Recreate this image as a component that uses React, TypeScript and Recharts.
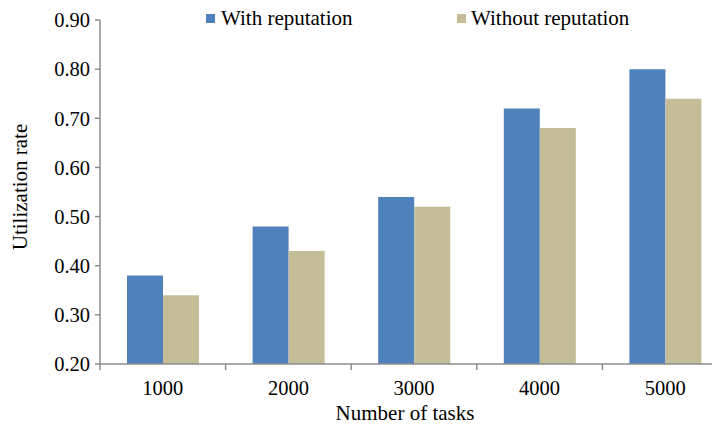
import React from 'react';
import { BarChart, Bar, XAxis, YAxis } from 'recharts';

const categories = ['1000', '2000', '3000', '4000', '5000'];
const withReputation = [0.38, 0.48, 0.54, 0.72, 0.80];
const withoutReputation = [0.34, 0.43, 0.52, 0.68, 0.74];
const yTicks = [0.2, 0.3, 0.4, 0.5, 0.6, 0.7, 0.8, 0.9];

const data = categories.map((c, i) => ({
  name: c,
  withRep: withReputation[i],
  withoutRep: withoutReputation[i],
}));

const FONT = '"Liberation Serif", "Times New Roman", serif';
const AXIS = '#8c8c8c';

const XTick = (props: any) => {
  const { x, y, payload } = props;
  const off = payload && typeof payload.offset === 'number' ? payload.offset : 0;
  return (
    <g>
      <line x1={x - off} y1={y - 8} x2={x - off} y2={y - 2} stroke={AXIS} strokeWidth={1.5} />
      <text x={x} y={y + 23} textAnchor="middle" style={{ fontFamily: FONT }} fontSize={20.5} fill="#000">
        {payload.value}
      </text>
    </g>
  );
};

const XLabel = (props: any) => {
  const vb = props.viewBox || { x: 100, y: 364, width: 628 };
  return (
    <text x={vb.x + 305} y={vb.y + 56} textAnchor="middle" style={{ fontFamily: FONT }} fontSize={21} fill="#000">
      Number of tasks
    </text>
  );
};

const YLabel = () => (
  <text x={27} y={187} transform="rotate(-90, 27, 187)" textAnchor="middle" style={{ fontFamily: FONT }} fontSize={21} fill="#000">
    Utilization rate
  </text>
);

export default function App() {
  return (
    <div style={{ marginTop: -8, marginLeft: -8, width: 720, height: 427, overflow: 'hidden', position: 'relative', background: '#fff' }}>
      <div style={{ position: 'absolute', left: 206, top: 14, width: 9, height: 9, background: '#4F81BD' }} />
      <div style={{ position: 'absolute', left: 221, top: 6, fontFamily: FONT, fontSize: 21, color: '#000', whiteSpace: 'nowrap' }}>
        With reputation
      </div>
      <div style={{ position: 'absolute', left: 457, top: 14, width: 9, height: 9, background: '#C4BD97' }} />
      <div style={{ position: 'absolute', left: 471, top: 6, fontFamily: FONT, fontSize: 21, color: '#000', whiteSpace: 'nowrap' }}>
        Without reputation
      </div>
      <BarChart
        width={728}
        height={427}
        data={data}
        margin={{ top: 20, right: 0, left: 0, bottom: 0 }}
        barCategoryGap="21.5%"
        barGap={0}
        style={{ position: 'absolute', left: 0, top: 0 }}
      >
        <XAxis
          dataKey="name"
          axisLine={{ stroke: AXIS, strokeWidth: 1.5 }}
          tickLine={false}
          tick={<XTick />}
          height={63}
          label={<XLabel />}
        />
        <YAxis
          domain={[0.2, 0.9]}
          ticks={yTicks}
          width={100}
          allowDataOverflow
          axisLine={{ stroke: AXIS, strokeWidth: 1.5 }}
          tickLine={{ stroke: AXIS, strokeWidth: 1.5 }}
          tickSize={5}
          tickMargin={5}
          tickFormatter={(v: number) => v.toFixed(2)}
          tick={{ style: { fontFamily: FONT }, fontSize: 20.5, fill: '#000' } as any}
          label={<YLabel />}
        />
        <Bar dataKey="withRep" name="With reputation" fill="#4F81BD" isAnimationActive={false} />
        <Bar dataKey="withoutRep" name="Without reputation" fill="#C4BD97" isAnimationActive={false} />
      </BarChart>
    </div>
  );
}
